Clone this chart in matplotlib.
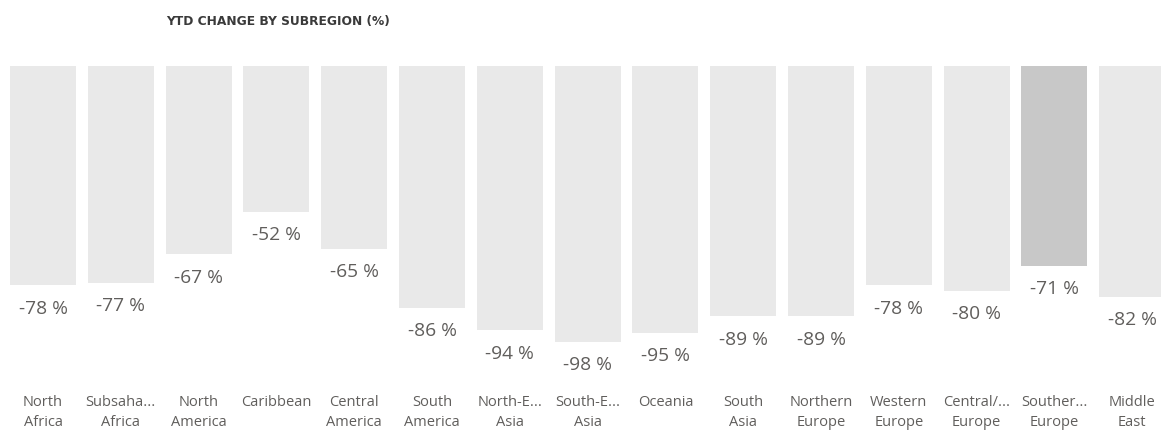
import matplotlib
matplotlib.use("Agg")
import matplotlib.pyplot as plt
from matplotlib import transforms

categories = ["North\nAfrica", "Subsaha...\nAfrica", "North\nAmerica", "Caribbean",
              "Central\nAmerica", "South\nAmerica", "North-E...\nAsia", "South-E...\nAsia",
              "Oceania", "South\nAsia", "Northern\nEurope", "Western\nEurope",
              "Central/...\nEurope", "Souther...\nEurope", "Middle\nEast"]
values = [-78, -77, -67, -52, -65, -86, -94, -98, -95, -89, -89, -78, -80, -71, -82]
highlight = "Souther...\nEurope"

W, H = 1161, 431
fig = plt.figure(figsize=(W / 100, H / 100), dpi=100)
ax = fig.add_axes([0, 0, 1, 1])
ax.set_axis_off()

colors = ["#C8C8C8" if c == highlight else "#E9E9E9" for c in categories]
x = list(range(len(categories)))
ax.bar(x, values, width=0.85, color=colors)

ax.set_xlim(-0.553, 14.37)
ax.set_ylim(-129.4, 23.8)

for xi, v in zip(x, values):
    ax.annotate(f"{v} %", (xi, v), xytext=(0, -16), textcoords="offset points",
                ha="center", va="center", fontsize=13.8, color="#605E5C",
                family=["Open Sans", "DejaVu Sans"])

tr = transforms.blended_transform_factory(ax.transData, fig.transFigure)
for xi, c in zip(x, categories):
    lines = c.split("\n")
    for j, line in enumerate(lines):
        ypx = 403 + 20 * j
        ax.text(xi, 1 - ypx / H, line, transform=tr, ha="center", va="center",
                fontsize=10.5, color="#605E5C", family=["Open Sans", "DejaVu Sans"])

fig.text(166 / W, 1 - 22 / H, "YTD CHANGE BY SUBREGION (%)", ha="left", va="center",
         fontsize=8.8, fontweight="bold", color="#3A3A3A",
         family=["Liberation Sans Narrow", "DejaVu Sans"])

fig.savefig("out.png", dpi=100)
